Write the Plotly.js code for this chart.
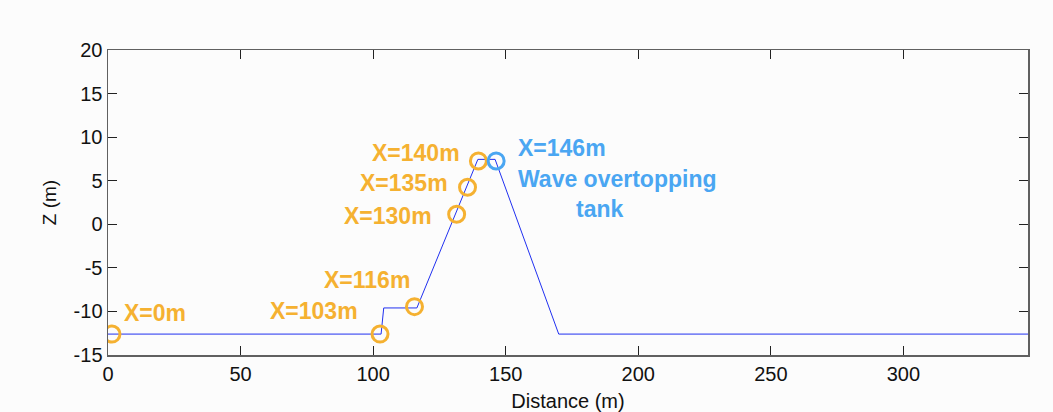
<!DOCTYPE html>
<html>
<head>
<meta charset="utf-8">
<script src="https://cdn.plot.ly/plotly-3.0.1.min.js"></script>
<style>html,body{margin:0;padding:0;background:#fcfcfc;}</style>
</head>
<body>
<div id="chart" style="width:1053px;height:412px;"></div>
<script>
// Bathymetry profile
const profileX = [0, 103, 104, 116.5, 139.5, 146, 170, 347];
const profileZ = [-12.6, -12.6, -9.6, -9.6, 7.45, 7.45, -12.6, -12.6];

// Gauge locations (orange)
const gaugeX = [1.5, 102.6, 115.6, 131.5, 135.6, 139.7];
const gaugeZ = [-12.6, -12.6, -9.45, 1.15, 4.25, 7.27];
const gaugeLabels = ["X=0m", "X=103m", "X=116m", "X=130m", "X=135m", "X=140m"];
const gaugeLabelX = [5.3, 95.1, 114.7, 123, 129, 133.6];
const gaugeLabelZ = [-10.2, -10.0, -6.4, 0.9, 4.75, 8.2];
const gaugeAnchor = ["left", "right", "right", "right", "right", "right"];

// Overtopping tank (blue)
const tankX = [146.4];
const tankZ = [7.27];
const tankLabels = ["X=146m", "Wave overtopping", "tank"];
const tankLabelX = [154, 154, 185.7];
const tankLabelZ = [8.8, 5.2, 1.8];
const tankAnchor = ["left", "left", "center"];

// Axis ticks
const xTicks = [0, 50, 100, 150, 200, 250, 300];
const xTickText = ["0", "50", "100", "150", "200", "250", "300"];
const yTicks = [-15, -10, -5, 0, 5, 10, 15, 20];
const yTickText = ["-15", "-10", "-5", "0", "5", "10", "15", "20"];

const orange = "#f5b131";
const blue = "#4aa6f2";
const fontFam = "Liberation Sans, Arial, Helvetica, sans-serif";

const traces = [
  {x: profileX, y: profileZ, mode: "lines", line: {color: "#2030f0", width: 1}, hoverinfo: "skip"},
  {x: gaugeX, y: gaugeZ, mode: "markers", marker: {symbol: "circle-open", size: 16, color: orange, line: {width: 3, color: orange}}},
  {x: tankX, y: tankZ, mode: "markers", marker: {symbol: "circle-open", size: 16, color: blue, line: {width: 3, color: blue}}}
];

const annotations = [];
gaugeLabels.forEach((t, i) => annotations.push({
  x: gaugeLabelX[i], y: gaugeLabelZ[i], text: "<b>" + t + "</b>", showarrow: false,
  xanchor: gaugeAnchor[i], yanchor: "middle", font: {family: fontFam, size: 23, color: orange}
}));
tankLabels.forEach((t, i) => annotations.push({
  x: tankLabelX[i], y: tankLabelZ[i], text: "<b>" + t + "</b>", showarrow: false,
  xanchor: tankAnchor[i], yanchor: "middle", font: {family: fontFam, size: 23, color: blue}
}));

const axisCommon = {
  showline: true, linecolor: "#606060", linewidth: 1.5, mirror: "ticks",
  ticks: "inside", ticklen: 9, tickcolor: "#222", tickwidth: 1,
  showgrid: false, zeroline: false,
  tickfont: {family: fontFam, size: 20, color: "#111"}
};

const layout = {
  width: 1053, height: 412,
  margin: {l: 108, r: 25, t: 50, b: 57},
  paper_bgcolor: "#fcfcfc", plot_bgcolor: "#fcfcfc",
  showlegend: false,
  xaxis: Object.assign({}, axisCommon, {
    range: [0, 347], tickvals: xTicks, ticktext: xTickText,
    title: {text: "Distance (m)", font: {family: fontFam, size: 20, color: "#111"}, standoff: 11}
  }),
  yaxis: Object.assign({}, axisCommon, {
    range: [-15, 20], tickvals: yTicks, ticktext: yTickText,
    title: {text: "Z (m)", font: {family: fontFam, size: 19, color: "#111"}, standoff: 12}
  }),
  annotations: annotations
};

Plotly.newPlot("chart", traces, layout, {displayModeBar: false, staticPlot: true});
</script>
</body>
</html>
